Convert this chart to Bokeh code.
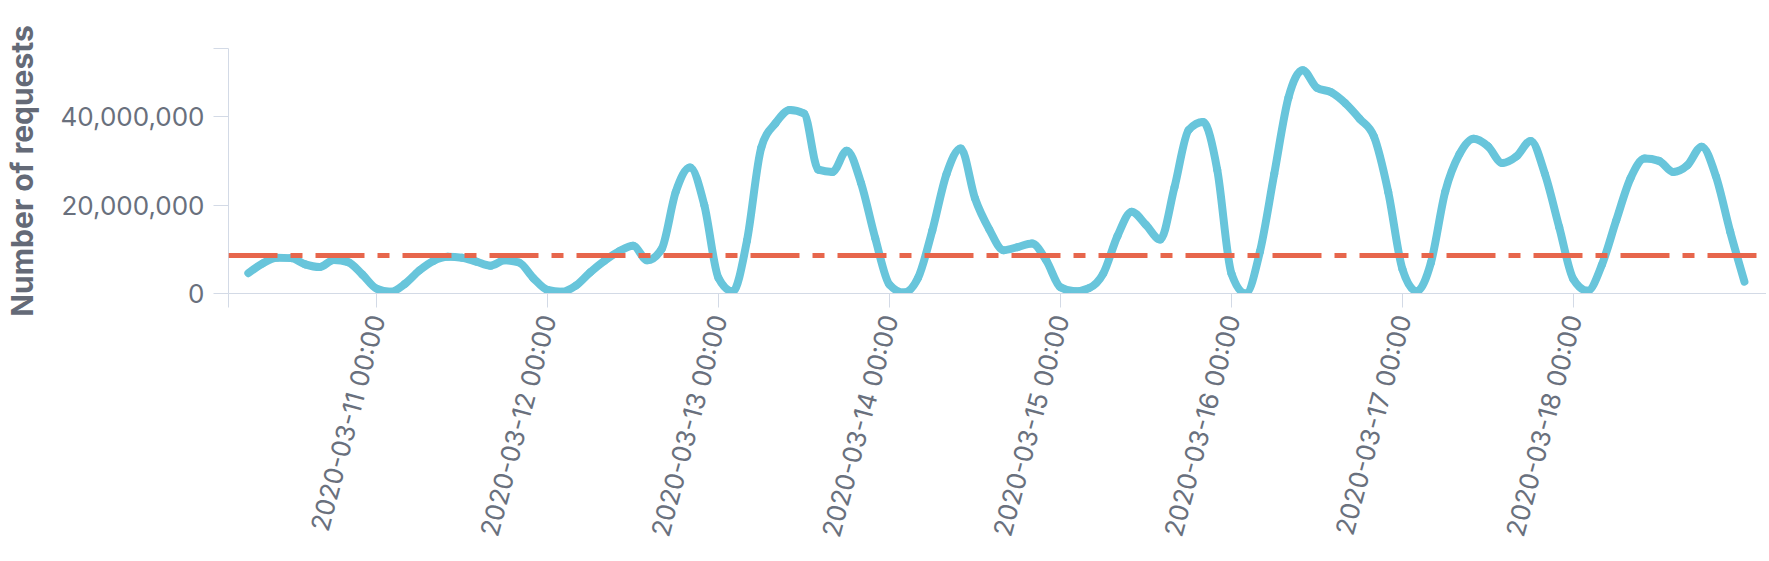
import numpy as np
import pandas as pd
from bokeh.plotting import figure
from bokeh.models import (Range1d, Span, FixedTicker, NumeralTickFormatter,
                          DatetimeTickFormatter, ColumnDataSource)
from bokeh.embed import file_html
from bokeh.resources import INLINE

# ---------------- data ----------------
START = "2020-03-10 06:00"
STEP = "2h"
# number of requests, in millions, every 2 hours
requests_m = [
    # 2020-03-10 06:00 .. 22:00
    4.6, 6.8, 8.1, 8.0, 6.6, 6.0, 7.6, 7.1, 4.3,
    # 2020-03-11
    1.1, 0.4, 2.2, 5.2, 7.4, 8.3, 8.1, 7.2, 6.3, 7.5, 7.0, 3.5,
    # 2020-03-12
    0.8, 0.4, 1.8, 4.8, 7.4, 9.5, 10.8, 7.5, 10.0, 23.0, 28.5, 20.0,
    # 2020-03-13
    3.5, 0.5, 12.0, 33.0, 38.5, 41.5, 40.7, 28.0, 27.5, 32.3, 25.0, 12.5,
    # 2020-03-14
    2.0, 0.2, 3.5, 14.2, 27.0, 32.8, 21.5, 14.5, 9.8, 10.5, 11.3, 7.5,
    # 2020-03-15
    1.4, 0.5, 1.2, 4.5, 13.0, 18.5, 15.5, 12.2, 24.0, 37.0, 38.8, 28.0,
    # 2020-03-16
    4.5, 0.0, 9.5, 27.0, 44.3, 50.5, 46.5, 45.5, 43.0, 39.5, 35.5, 23.0,
    # 2020-03-17
    5.5, 0.5, 7.0, 23.0, 31.5, 35.0, 33.3, 29.5, 31.0, 34.5, 27.0, 15.0,
    # 2020-03-18
    3.2, 0.6, 6.5, 16.5, 26.0, 30.5, 30.0, 27.5, 29.0, 33.2, 26.5, 14.0,
    # 2020-03-19 00:00
    2.7,
]
THRESHOLD_M = 8.6
Y_MAX_M = 55.4
Y_TICKS = [0, 20_000_000, 40_000_000]
X_TICK_DAYS = ["2020-03-11", "2020-03-12", "2020-03-13", "2020-03-14",
               "2020-03-15", "2020-03-16", "2020-03-17", "2020-03-18"]
X_START = "2020-03-10 03:13"
X_END = "2020-03-19 03:06"


def to_ms(ts):
    return pd.Timestamp(ts).value / 1e6


times = pd.date_range(START, periods=len(requests_m), freq=STEP)
x = np.array([t.value / 1e6 for t in times])
y = np.array(requests_m) * 1e6

# monotone-X cubic curve (same as d3.curveMonotoneX) drawn with bezier segments
h = np.diff(x)
s = np.diff(y) / h
n = len(x)
tan = np.zeros(n)
for i in range(1, n - 1):
    h0, h1, s0, s1 = h[i - 1], h[i], s[i - 1], s[i]
    pm = (s0 * h1 + s1 * h0) / (h0 + h1)
    tan[i] = (np.sign(s0) + np.sign(s1)) * min(abs(s0), abs(s1), 0.5 * abs(pm))
tan[0] = (3 * s[0] - tan[1]) / 2
tan[-1] = (3 * s[-1] - tan[-2]) / 2
dx = h / 3
src = ColumnDataSource(dict(
    x0=x[:-1], y0=y[:-1], x1=x[1:], y1=y[1:],
    cx0=x[:-1] + dx, cy0=y[:-1] + dx * tan[:-1],
    cx1=x[1:] - dx, cy1=y[1:] - dx * tan[1:],
))

# ---------------- figure ----------------
AXIS = "#D3DAE6"
TEXT = "#69707D"
FONT = "Inter"

p = figure(x_axis_type="datetime", frame_width=1538, frame_height=245,
           min_border_left=227, min_border_top=48, min_border_right=0,
           min_border_bottom=0, output_backend="svg", toolbar_location=None,
           x_range=Range1d(to_ms(X_START), to_ms(X_END)),
           y_range=Range1d(0, Y_MAX_M * 1e6))
p.outline_line_color = None
p.xgrid.visible = False
p.ygrid.visible = False
p.background_fill_color = "white"
p.border_fill_color = "white"

p.bezier(x0="x0", y0="y0", x1="x1", y1="y1", cx0="cx0", cy0="cy0",
         cx1="cx1", cy1="cy1", source=src, line_color="#68C5DB",
         line_width=8, line_cap="round")

p.add_layout(Span(location=THRESHOLD_M * 1e6, dimension="width",
                  line_color="#E7664C", line_width=5,
                  line_dash="49 13 12 13"))

for ax in (p.xaxis[0], p.yaxis[0]):
    ax.axis_line_color = AXIS
    ax.major_tick_line_color = AXIS
    ax.minor_tick_line_color = AXIS
    ax.major_tick_in = 0
    ax.minor_tick_in = 0
    ax.major_label_text_color = TEXT
    ax.major_label_text_font = FONT
    ax.major_label_text_font_size = "26px"

xa = p.xaxis[0]
xa.ticker = FixedTicker(ticks=[to_ms(d) for d in X_TICK_DAYS],
                        minor_ticks=[to_ms(X_START), to_ms(X_END)])
fmt = "%Y-%m-%d %H:%M"
xa.formatter = DatetimeTickFormatter(
    milliseconds=fmt, seconds=fmt, minsec=fmt, minutes=fmt, hourmin=fmt,
    hours=fmt, days=fmt, months=fmt, years=fmt)
xa.major_tick_out = 14
xa.minor_tick_out = 14
xa.major_label_orientation = np.deg2rad(75)
xa.major_label_standoff = 8

ya = p.yaxis[0]
ya.ticker = FixedTicker(ticks=Y_TICKS, minor_ticks=[Y_MAX_M * 1e6])
ya.formatter = NumeralTickFormatter(format="0,0")
ya.major_tick_out = 15
ya.minor_tick_out = 15
ya.major_label_standoff = 9
ya.axis_label = "Number of requests"
ya.axis_label_text_font = FONT
ya.axis_label_text_font_style = "bold"
ya.axis_label_text_font_size = "30px"
ya.axis_label_text_color = "#646A77"
ya.axis_label_standoff = 18

open("out.html", "w").write(file_html(p, INLINE))
